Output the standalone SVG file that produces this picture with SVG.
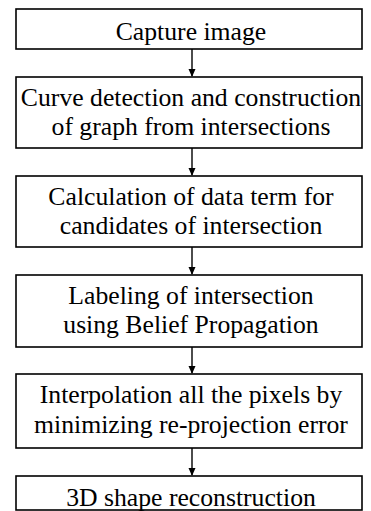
<svg xmlns="http://www.w3.org/2000/svg" width="371" height="511" viewBox="0 0 371 511">
<defs>
<style>
.box{fill:#fff;stroke:#000;stroke-width:1.6}
.c{stroke:#000;stroke-width:1.4;fill:none}
</style>
<marker id="ah" markerWidth="8" markerHeight="9" refX="7" refY="4.5" orient="auto" markerUnits="userSpaceOnUse">
<path d="M0,1 L8,4.5 L0,8 Z" fill="#000"/>
</marker>
</defs>
<rect width="371" height="511" fill="#fff"/>
<g id="connectors">
<line class="c" x1="192" y1="49" x2="192" y2="76" marker-end="url(#ah)"/>
<line class="c" x1="192" y1="148" x2="192" y2="175" marker-end="url(#ah)"/>
<line class="c" x1="192" y1="247" x2="192" y2="274" marker-end="url(#ah)"/>
<line class="c" x1="192" y1="347" x2="192" y2="373" marker-end="url(#ah)"/>
<line class="c" x1="192" y1="448" x2="192" y2="475" marker-end="url(#ah)"/>
</g>
<g font-family="Liberation Serif, DejaVu Serif, serif" font-size="25.7" text-anchor="middle" fill="#000">
<g id="n1">
<rect class="box" x="16" y="9" width="346" height="40"/>
<text x="191" y="40">Capture image</text>
</g>
<g id="n2">
<rect class="box" x="16" y="77" width="346" height="71"/>
<text x="191" y="106">Curve detection and construction</text>
<text x="191" y="135">of graph from intersections</text>
</g>
<g id="n3">
<rect class="box" x="16" y="176" width="346" height="71"/>
<text x="191" y="205">Calculation of data term for</text>
<text x="191" y="234">candidates of intersection</text>
</g>
<g id="n4">
<rect class="box" x="16" y="275" width="346" height="72"/>
<text x="191" y="304">Labeling of intersection</text>
<text x="191" y="333">using Belief Propagation</text>
</g>
<g id="n5">
<rect class="box" x="16" y="374" width="346" height="74"/>
<text x="191" y="403">Interpolation all the pixels by</text>
<text x="191" y="433">minimizing re-projection error</text>
</g>
<g id="n6">
<rect class="box" x="16" y="476" width="346" height="34"/>
<text x="191" y="506">3D shape reconstruction</text>
</g>
</g>
</svg>
